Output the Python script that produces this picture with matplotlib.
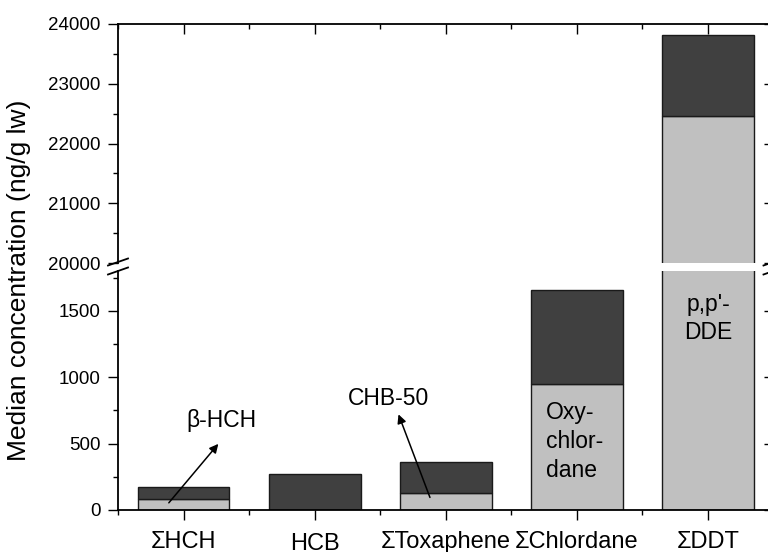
import matplotlib
matplotlib.use('Agg')
import matplotlib.pyplot as plt
import matplotlib.transforms as mtransforms
from matplotlib.lines import Line2D
from matplotlib.ticker import MultipleLocator
import numpy as np

plt.rcParams['font.family'] = ['Liberation Sans', 'DejaVu Sans']

# median concentrations (ng/g lw)
categories = ['\u03a3HCH', 'HCB', '\u03a3Toxaphene', '\u03a3Chlordane', '\u03a3DDT']
main_cpd = [80, 0, 125, 950, 22460]      # b-HCH, -, CHB-50, oxychlordane, p,p'-DDE
total = [172, 268, 360, 1655, 23820]
rest = [t - m for t, m in zip(total, main_cpd)]

light = '#c0c0c0'
dark = '#404040'
edge = '#1a1a1a'

W, H = 768., 552.
fig = plt.figure(figsize=(W/100, H/100), dpi=100)
left = 118/W
width = 655.5/W
ax_top = fig.add_axes([left, (H-263)/H, width, 239/H])
ax_bot = fig.add_axes([left, (H-510)/H, width, 239/H])

x = np.arange(1, len(categories)+1)
for ax in (ax_top, ax_bot):
    ax.bar(x, main_cpd, 0.7, color=light, edgecolor=edge, lw=1)
    ax.bar(x, rest, 0.7, bottom=main_cpd, color=dark, edgecolor=edge, lw=1)
    ax.set_xlim(0.5, 5.5)
    ax.xaxis.set_major_locator(MultipleLocator(1))
    ax.xaxis.set_minor_locator(MultipleLocator(0.5))
    for s in ax.spines.values():
        s.set_linewidth(1.3)
    ax.tick_params(axis='both', which='major', length=7.2, width=1.0, labelsize=13.5, pad=5.5)
    ax.tick_params(axis='both', which='minor', length=3.6, width=1.0)
    ax.tick_params(axis='y', which='both', direction='out', right=False)

ax_top.set_ylim(20000, 24000)
ax_top.yaxis.set_major_locator(MultipleLocator(1000))
ax_top.yaxis.set_minor_locator(MultipleLocator(500))
ax_top.spines['bottom'].set_visible(False)
ax_top.tick_params(axis='x', which='both', direction='in', bottom=False, top=True,
                   labelbottom=False)

ax_bot.set_ylim(0, 1800)
ax_bot.yaxis.set_major_locator(MultipleLocator(500))
ax_bot.yaxis.set_minor_locator(MultipleLocator(250))
ax_bot.spines['top'].set_visible(False)
ax_bot.tick_params(axis='x', which='both', direction='out', labelbottom=False)

# inward ticks on the right side
for ax in (ax_top, ax_bot):
    axr = ax.twinx()
    axr.set_ylim(ax.get_ylim())
    axr.yaxis.set_major_locator(ax.yaxis.get_major_locator())
    axr.yaxis.set_minor_locator(ax.yaxis.get_minor_locator())
    axr.tick_params(axis='y', which='major', direction='in', length=7.2, width=1.0, labelright=False)
    axr.tick_params(axis='y', which='minor', direction='in', length=3.6, width=0.6)
    for s in axr.spines.values():
        s.set_visible(False)

# category names under the bars
trans = mtransforms.blended_transform_factory(ax_bot.transData, ax_bot.transAxes)
for xi, cat in zip(x, categories):
    yy = -0.168 if cat == 'HCB' else -0.161
    ax_bot.text(xi, yy, cat, transform=trans, ha='center', va='baseline', fontsize=17)

fig.text(19/W, 1-280/H, 'Median concentration (ng/g lw)', rotation=90,
         ha='center', va='center', fontsize=19)

# labels for the main compounds
arrow = dict(arrowstyle='-|>', color='k', lw=1.1, mutation_scale=13)
ax_bot.annotate('', xy=(1.279, 514), xytext=(0.874, 38), arrowprops=arrow)
ax_bot.text(1.29, 625, '\u03b2-HCH', ha='center', va='baseline', fontsize=16.5)
ax_bot.annotate('', xy=(2.632, 740), xytext=(2.887, 75), arrowprops=arrow)
ax_bot.text(2.566, 791, 'CHB-50', ha='center', va='baseline', fontsize=16.5)
ax_bot.text(3.764, 250, 'Oxy-\nchlor-\ndane', ha='left', va='baseline', fontsize=16.5,
            linespacing=1.32)
ax_bot.text(5.0, 1288, "p,p'-\nDDE", ha='center', va='baseline', fontsize=16.5,
            linespacing=1.3)

# axis break marks
for xp in (118, 773.5):
    for yp in (262, 271):
        fig.add_artist(Line2D([(xp-10)/W, (xp+10)/W], [1-(yp+3.5)/H, 1-(yp-3.5)/H],
                              color='k', lw=1.3, transform=fig.transFigure))

fig.savefig('out.png', dpi=100)
